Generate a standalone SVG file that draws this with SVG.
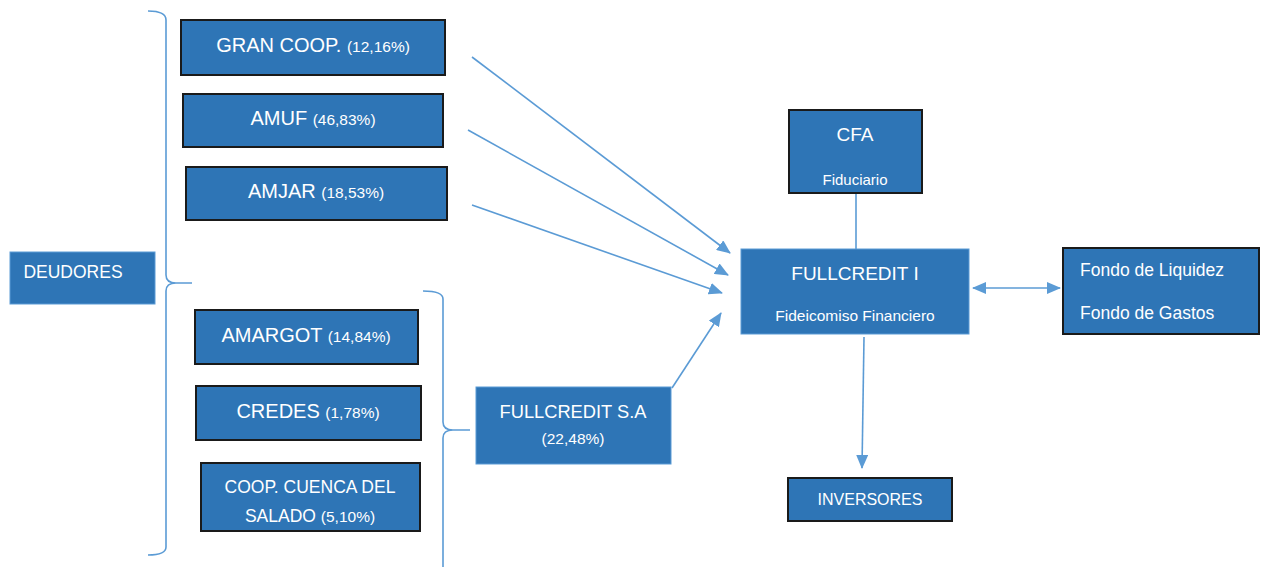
<svg xmlns="http://www.w3.org/2000/svg" width="1261" height="567" viewBox="0 0 1261 567">
<style>
.b{fill:#2E75B6;stroke:#1a1a1a;stroke-width:2}
.n{fill:#2E75B6;stroke:#5B9BD5;stroke-width:1}
text{font-family:"Liberation Sans",Arial,sans-serif;fill:#fff;text-anchor:middle}
.m{font-size:20px}
.s{font-size:15.5px}
.c{stroke:#5B9BD5;stroke-width:1.6;fill:none}
</style>
<defs>
<marker id="ah" viewBox="0 0 10 10" refX="9" refY="5" markerWidth="6" markerHeight="6" markerUnits="userSpaceOnUse" orient="auto-start-reverse">
<path d="M0,0 L10,5 L0,10 z" fill="#5B9BD5"/>
</marker>
<marker id="a" viewBox="0 0 14 12" refX="13" refY="6" markerWidth="14" markerHeight="12" markerUnits="userSpaceOnUse" orient="auto-start-reverse">
<path d="M0,0 L14,6 L0,12 z" fill="#5B9BD5"/>
</marker>
</defs>
<g id="connectors">
<path class="c" d="M148,11 Q166,11 166,20 L166,275 Q166,283 176,283 L192,283 M176,283 Q166,283 166,291 L166,547 Q166,555 148,555"/>
<path class="c" d="M423,291 Q443,291 443,299 L443,422 Q443,430 453,430 L470,430 M453,430 Q443,430 443,438 L443,567"/>
<line class="c" x1="472" y1="57" x2="730" y2="253" marker-end="url(#a)"/>
<line class="c" x1="468" y1="130" x2="728" y2="275" marker-end="url(#a)"/>
<line class="c" x1="472" y1="205" x2="722" y2="293" marker-end="url(#a)"/>
<line class="c" x1="672" y1="388" x2="721" y2="313" marker-end="url(#a)"/>
<line class="c" x1="856" y1="194" x2="856" y2="249"/>
<line class="c" x1="864" y1="337" x2="862" y2="468" marker-end="url(#a)"/>
<line class="c" x1="973" y1="288" x2="1060" y2="288" marker-start="url(#a)" marker-end="url(#a)"/>
</g>
<g id="gran"><rect class="b" x="181" y="20" width="264" height="55"/><text x="313" y="52"><tspan class="m">GRAN COOP. </tspan><tspan class="s">(12,16%)</tspan></text></g>
<g id="amuf"><rect class="b" x="183" y="94" width="260" height="53"/><text x="313" y="125"><tspan class="m">AMUF </tspan><tspan class="s">(46,83%)</tspan></text></g>
<g id="amjar"><rect class="b" x="186" y="167" width="261" height="53"/><text x="316" y="198"><tspan class="m">AMJAR </tspan><tspan class="s">(18,53%)</tspan></text></g>
<g id="deudores"><rect class="n" x="10" y="252" width="145" height="52"/><text x="73" y="278" style="font-size:17.5px">DEUDORES</text></g>
<g id="amargot"><rect class="b" x="195" y="310" width="223" height="54"/><text x="306" y="342"><tspan class="m">AMARGOT </tspan><tspan class="s">(14,84%)</tspan></text></g>
<g id="credes"><rect class="b" x="196" y="386" width="225" height="54"/><text x="308" y="418"><tspan class="m">CREDES </tspan><tspan class="s">(1,78%)</tspan></text></g>
<g id="coop"><rect class="b" x="201" y="463" width="219" height="68"/><text x="310" y="493" style="font-size:17.5px">COOP. CUENCA DEL</text><text x="310" y="522"><tspan style="font-size:17.5px">SALADO </tspan><tspan class="s">(5,10%)</tspan></text></g>
<g id="fullcreditsa"><rect class="n" x="476" y="387" width="195" height="77"/><text x="573" y="418" style="font-size:18.3px">FULLCREDIT S.A</text><text x="573" y="444" class="s">(22,48%)</text></g>
<g id="cfa"><rect class="b" x="789" y="110" width="133" height="83"/><text x="855" y="141" style="font-size:19px">CFA</text><text x="855" y="185" style="font-size:15px">Fiduciario</text></g>
<g id="fullcrediti"><rect class="n" x="741" y="249" width="228" height="85"/><text x="855" y="280" style="font-size:19px">FULLCREDIT I</text><text x="855" y="321" style="font-size:15.5px">Fideicomiso Financiero</text></g>
<g id="fondos"><rect class="b" x="1063" y="248" width="196" height="86"/><text x="1080" y="276" style="font-size:17.5px;text-anchor:start">Fondo de Liquidez</text><text x="1080" y="319" style="font-size:17.5px;text-anchor:start">Fondo de Gastos</text></g>
<g id="inversores"><rect class="b" x="788" y="478" width="164" height="43"/><text x="870" y="505" style="font-size:16px">INVERSORES</text></g>
</svg>
